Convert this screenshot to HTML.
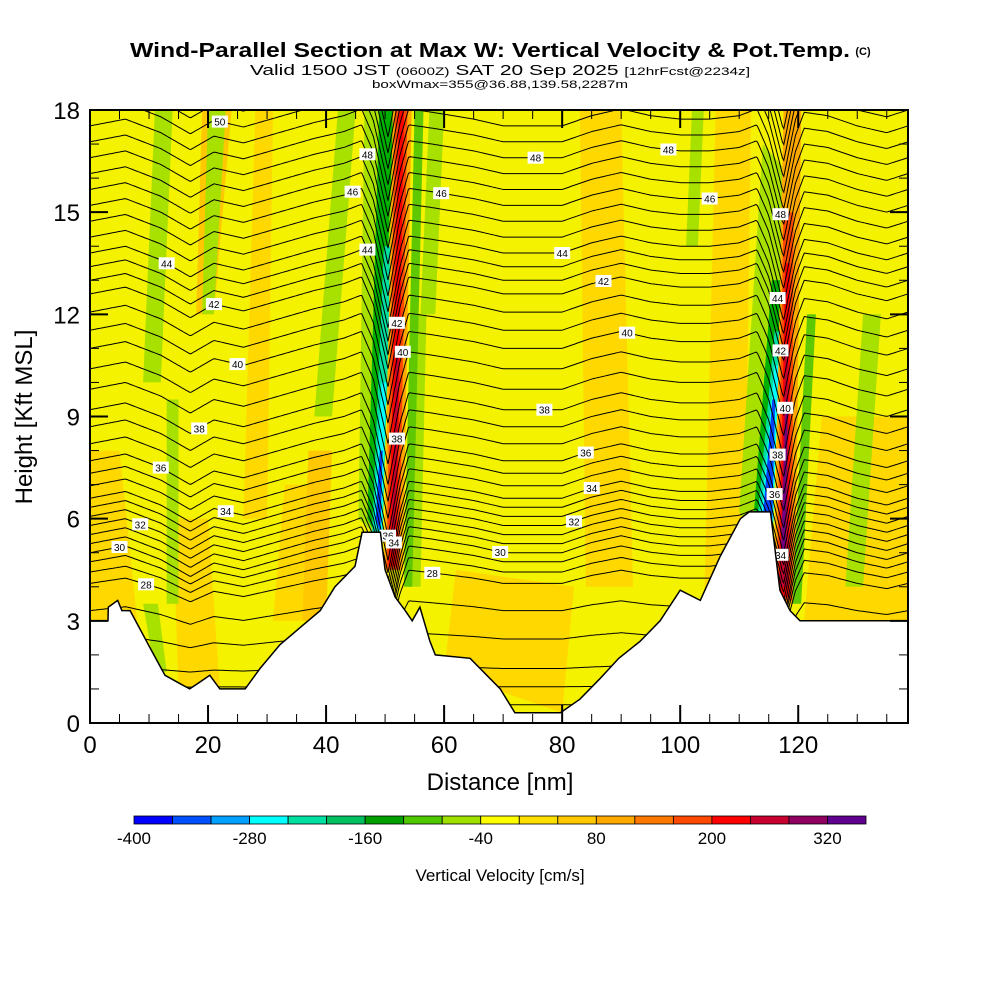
<!DOCTYPE html>
<html><head><meta charset="utf-8"><style>
html,body{margin:0;padding:0;background:#fff;}
svg{display:block;font-family:"Liberation Sans",Arial,sans-serif;}
</style></head><body>
<svg id="chart" width="1000" height="1000" viewBox="0 0 1000 1000">
<defs><clipPath id="plotclip"><rect x="90" y="110" width="818" height="613"/></clipPath></defs>
<g>
<text x="490" y="57" font-size="20" font-weight="bold" text-anchor="middle" textLength="720" lengthAdjust="spacingAndGlyphs">Wind-Parallel Section at Max W: Vertical Velocity &amp; Pot.Temp.</text>
<text x="863" y="55" font-size="11" font-weight="bold" text-anchor="middle">(C)</text>
<text x="500" y="75" font-size="15" text-anchor="middle" textLength="500" lengthAdjust="spacingAndGlyphs">Valid 1500 JST <tspan font-size="11">(0600Z)</tspan> SAT 20 Sep 2025 <tspan font-size="11">[12hrFcst@2234z]</tspan></text>
<text x="500" y="88" font-size="11" text-anchor="middle" textLength="256" lengthAdjust="spacingAndGlyphs">boxWmax=355@36.88,139.58,2287m</text>
</g>
<g id="plot" clip-path="url(#plotclip)"></g>
<g id="axes"></g>
<g id="cbar"></g>
<text x="500" y="790" font-size="24" text-anchor="middle">Distance [nm]</text>
<text transform="translate(32,417) rotate(-90)" font-size="24" text-anchor="middle">Height [Kft MSL]</text>
<text x="500" y="881" font-size="17" text-anchor="middle">Vertical Velocity [cm/s]</text>
</svg>
<script>
const NS="http://www.w3.org/2000/svg";
// ---- data ----
const xMax=138.6, yMax=18;
const xTicks=[0,20,40,60,80,100,120];
const yTicks=[0,3,6,9,12,15,18];
const terrainX=[0,3.05,3.1,4.7,5.4,6.8,10.2,12.7,15.3,16.9,18.6,20.3,22,26.3,28.8,32.2,35.6,39,41.5,44.9,46.1,49.2,50,51.7,53.4,54.6,55.9,57.6,58.5,64.4,69.5,72,79.7,83,86.4,89.6,93.2,96.6,100,103.4,106.8,110.2,111.7,115.3,116.9,118.6,120.3,138.6];
const terrainZ=[3.0,3.0,3.4,3.6,3.3,3.3,2.2,1.4,1.15,1.0,1.2,1.4,1.0,1.0,1.6,2.3,2.8,3.3,4.0,4.6,5.6,5.6,4.5,3.7,3.3,3.0,3.4,2.4,2.0,1.9,1.0,0.3,0.3,0.7,1.3,1.9,2.4,3.0,3.9,3.6,4.9,6.0,6.2,6.2,3.9,3.3,3.0,3.0];
const thetaBase=[22,24,26,27,28,29,30,32,34,36,38,40,42,44,46,48,50,52];
const zBase=[-1,0,1.6,2.9,4.1,4.6,5.0,5.8,6.6,7.7,9.2,11.0,12.6,13.8,15.2,16.6,18.0,19.4];
const dispX=[0,6,12,17,21,26,32,38,43,46,48,50.5,52.5,54,58,65,70,75,80,85,90,95,100,105,110,113,115,117.5,119.5,121,125,130,135,138.6];
const dispZ=[0,0.2,-0.2,-0.7,-0.3,-0.5,-0.2,0.1,0.3,0.5,-0.3,-2.2,-0.4,0.5,0.4,0.2,0,0,0,0.3,0.5,0.3,0.2,0.2,0.3,0.5,-0.3,-2.0,-0.3,0.4,0.3,0,-0.2,0];
const labelTheta=[28,30,32,36,38,40,42,44,46,48,50,34,44,46,48,42,40,38,36,34,28,30,32,34,36,38,40,42,44,46,48,48,44,42,40,38,36,34];
const labelX=[9.5,5,8.5,12,18.5,25,21,13,44.5,47,22,23,47,59.5,75.5,52,53,52,50.5,51.5,58,69.5,82,85,84,77,91,87,80,105,98,117,116.5,117,117.8,116.5,116,117];
const cbColors=["#0000ff","#0050ff","#00a0ff","#00ffff","#00e0a0","#00c060","#00a000","#50c800","#a0e000","#ffff00","#ffe000","#ffc800","#ffa800","#ff7800","#ff4800","#ff0000","#c80030","#900060","#600090"];
const cbLabels=["-400","-280","-160","-40","80","200","320"];
const cbLabelVals=[-400,-280,-160,-40,80,200,320];
const featColors=["#ffd800","#ffd800","#ffc800","#ffd800","#ffd800","#ffd800","#ffd800","#ffd800","#ffd800","#ffc800","#a8e000","#a8e000","#a8e000","#a8e000","#a8e000","#a8e000","#a8e000","#a8e000","#a8e000",
"#a8e000","#00b000","#00e0a0","#00ffff","#0040ff","#ffa800","#ff4800","#ff0000","#c80030",
"#a8e000","#00b000","#00e0a0","#00ffff","#0040ff","#ffa800","#ff4800","#ff0000","#c80030","#700080","#60c800","#60c800"];
const featPolys=[
[[0,3],[8,3],[5,8],[0,8]],
[[15,1],[22,1],[20,6],[14,6]],
[[18,12],[21,12],[24,18],[19,18]],
[[31,3],[40,3],[38,7],[33,7]],
[[60,1.5],[80,0.3],[82,4],[62,4.5]],
[[84,4],[92,4],[90,18],[83,18]],
[[104,3],[111,5],[112,18],[106,18]],
[[121,3],[138.6,3],[138.6,9],[124,9]],
[[26,6],[30,6],[31,18],[28,18]],
[[36,3],[40,3],[41,8],[37,8]],
[[11,18],[14,18],[12,10],[9,10]],
[[20,18],[23,18],[21,12],[19,12]],
[[13,3.5],[15,3.5],[15,9.5],[13,9.5]],
[[38,9],[41,9],[45,18],[42,18]],
[[56,12],[58.5,12],[60,18],[57.5,18]],
[[101,14],[103,14],[104,18],[102,18]],
[[128,4],[131,4],[134,12],[131,12]],
[[9,3.5],[11.5,3.5],[13,1.5],[11,1.5]],
[[54,4],[56,4],[57,12],[55,12]],
[[45.5,6],[48.5,5.5],[54,18],[46.5,18]],
[[47,6],[48.5,5.5],[51.5,18],[49,18]],
[[47.8,5.6],[49.6,5.6],[51,14],[49.8,14]],
[[48.1,5.8],[49.5,5.6],[50.2,10],[49.4,10]],
[[48.4,6],[49.2,5.6],[49.6,8],[49.1,8]],
[[49.8,4.5],[53,4.5],[54.5,18],[51.3,18]],
[[50.2,4.5],[52.4,4.5],[53.8,18],[51.7,18]],
[[50.6,4.6],[51.9,4.6],[53.2,18],[52.3,18]],
[[51,5],[51.6,5],[52.4,11],[51.9,11]],
[[110,6.2],[114,5],[119,16],[114,17]],
[[112.5,6.2],[114.5,5],[117.5,13],[115.5,13]],
[[113.2,6.2],[115.2,4.5],[117,11.5],[116,11.5]],
[[113.8,6.2],[115.5,4.5],[116.7,10.5],[116,10.5]],
[[114.1,6.2],[115.4,4.5],[116.1,9.5],[115.6,9.5]],
[[115.8,3.5],[119.5,3.5],[120.5,18],[117.5,18]],
[[116.3,3.6],[119,3.6],[119.2,15],[117.5,15]],
[[116.7,3.7],[118.5,3.7],[118.6,13.5],[117.8,13.5]],
[[116.9,4],[118.3,4],[118.3,11],[117.8,11]],
[[117.1,5],[117.9,5],[118.2,9.5],[117.9,9.5]],
[[119,3.5],[120.5,3.5],[123,12],[121.5,12]],
[[53.2,4],[54.6,4],[56.5,18],[55,18]]
];
// ---- helpers ----
const X0=90,X1=908,Y0=723,Y1=110;
function sx(v){return X0+(v/xMax)*(X1-X0);}
function sy(v){return Y0-(v/yMax)*(Y0-Y1);}
function interp(xs,ys,x){if(x<=xs[0])return ys[0];for(let i=1;i<xs.length;i++){if(x<=xs[i]){const t=(x-xs[i-1])/(xs[i]-xs[i-1]);return ys[i-1]+t*(ys[i]-ys[i-1]);}}return ys[ys.length-1];}
function contourZ(th,x){const b=interp(thetaBase,zBase,th);return b+interp(dispX,dispZ,x)*Math.min(1,Math.max(0,(b-1)/4));}
function el(tag,attrs,parent){const e=document.createElementNS(NS,tag);for(const k in attrs)e.setAttribute(k,attrs[k]);parent.appendChild(e);return e;}
const plot=document.getElementById('plot');
const bg=el('rect',{x:90,y:110,width:818,height:613,fill:'#f5f200'},plot);


featPolys.forEach((p,i)=>{
  const poly=el('polygon',{points:p.map(q=>sx(q[0]).toFixed(1)+','+sy(q[1]).toFixed(1)).join(' '),fill:featColors[i]},plot);
  
  
});
for(let k=0;k<=42;k++){
  const th=24+k*2/3;
  let d='';
  for(let i=0;i<=560;i++){const x=i*xMax/560;d+=(i===0?'M':'L')+sx(x).toFixed(1)+','+sy(contourZ(th,x)).toFixed(1);}
  const path=el('path',{d:d,fill:'none',stroke:'#000','stroke-width':1},plot);
  
  
}
labelTheta.forEach((th,i)=>{
  const x=labelX[i],z=contourZ(th,x);
  if(z<interp(terrainX,terrainZ,x)||z>yMax)return;
  const g=el('g',{transform:'translate('+sx(x).toFixed(1)+','+sy(z).toFixed(1)+')'},plot);
  
  
  el('rect',{x:-8,y:-6,width:16,height:12,fill:'#fff'},g);
  const t=el('text',{x:0,y:4,'font-size':10,'text-anchor':'middle'},g);
  t.textContent=String(th);
});
let tp='M'+sx(0)+','+sy(0);
terrainX.forEach((x,i)=>{tp+='L'+sx(x).toFixed(1)+','+sy(terrainZ[i]).toFixed(1);});
tp+='L'+sx(xMax)+','+sy(0)+'Z';
const terr=el('path',{d:tp,fill:'#fff',stroke:'#000','stroke-width':1.5},plot);


const ax=document.getElementById('axes');
const frame=el('rect',{x:90,y:110,width:818,height:613,fill:'none',stroke:'#000','stroke-width':2},ax);


for(let v=0;v<=xMax;v+=5){const major=v%20===0,L=major?18:9;
  el('line',{x1:sx(v),x2:sx(v),y1:723,y2:723-L,stroke:'#000','stroke-width':major?2:1},ax);
  el('line',{x1:sx(v),x2:sx(v),y1:110,y2:110+L,stroke:'#000','stroke-width':major?2:1},ax);}
for(let v=0;v<=18;v+=1){const major=v%3===0,L=major?18:9;
  el('line',{x1:90,x2:90+L,y1:sy(v),y2:sy(v),stroke:'#000','stroke-width':major?2:1},ax);
  el('line',{x1:908,x2:908-L,y1:sy(v),y2:sy(v),stroke:'#000','stroke-width':major?2:1},ax);}
xTicks.forEach(v=>{const t=el('text',{x:sx(v),y:753,'font-size':24,'text-anchor':'middle'},ax);
  
  
  t.textContent=String(v);});
yTicks.forEach(v=>{const t=el('text',{x:80,y:sy(v)+9,'font-size':24,'text-anchor':'end'},ax);
  
  
  t.textContent=String(v);});
const cb=document.getElementById('cbar');
const cbx0=134,cbx1=866,cbw=(cbx1-cbx0)/cbColors.length;
cbColors.forEach((c,i)=>{const r=el('rect',{x:cbx0+i*cbw,y:816,width:cbw,height:8,fill:c,stroke:'#000','stroke-width':0.8},cb);
  
  });
cbLabels.forEach((s,i)=>{const x=cbx0+(cbLabelVals[i]+400)/40*cbw;
  const t=el('text',{x:x,y:844,'font-size':17,'text-anchor':'middle'},cb);
  
  
  t.textContent=s;});
</script>
</body></html>
